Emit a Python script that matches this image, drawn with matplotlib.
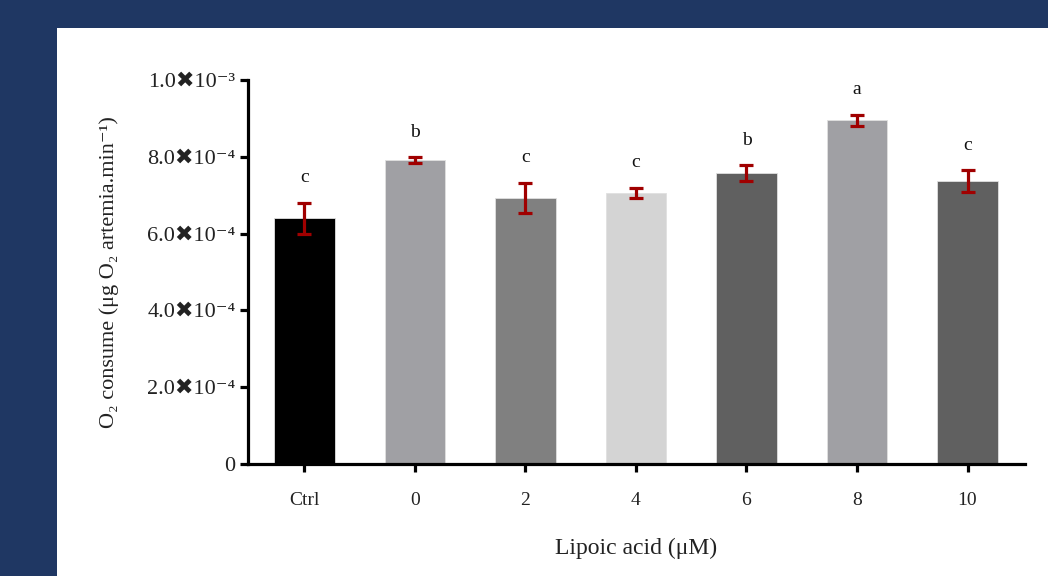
import matplotlib
matplotlib.use("Agg")
import matplotlib.pyplot as plt
from matplotlib.patches import Rectangle

categories = ["Ctrl", "0", "2", "4", "6", "8", "10"]
values = [0.640e-3, 0.792e-3, 0.693e-3, 0.706e-3, 0.758e-3, 0.895e-3, 0.737e-3]
errors = [0.040e-3, 0.007e-3, 0.040e-3, 0.013e-3, 0.020e-3, 0.014e-3, 0.028e-3]
letters = ["c", "b", "c", "c", "b", "a", "c"]
bar_colors = ["#000000", "#a0a0a4", "#808080", "#d4d4d4", "#606060", "#a0a0a4", "#606060"]
ytick_vals = [0, 2e-4, 4e-4, 6e-4, 8e-4, 1e-3]
ytick_labels = ["0", "2.0✖10⁻⁴", "4.0✖10⁻⁴", "6.0✖10⁻⁴", "8.0✖10⁻⁴", "1.0✖10⁻³"]

FAM = ["Liberation Serif", "DejaVu Sans"]
plt.rcParams["font.family"] = FAM

fig = plt.figure(figsize=(10.48, 5.76), dpi=100, facecolor="#1f3763")
fig.patches.append(Rectangle((57/1048, 0), 1 - 57/1048, (576-28)/576,
                             transform=fig.transFigure, facecolor="white",
                             edgecolor="none", zorder=-10))

ax = fig.add_axes([248/1048, (576-464)/576, (1025-248)/1048, (464-80)/576])
ax.set_facecolor("none")
x = list(range(len(categories)))
ax.bar(x, values, width=0.55, color=bar_colors, edgecolor="#e0e0e0", linewidth=0.6, zorder=2)
ax.errorbar(x, values, yerr=errors, fmt="none", ecolor="#a00000",
            elinewidth=2.3, capsize=5, capthick=2.3, zorder=3)
for xi, v, e, l in zip(x, values, errors, letters):
    ax.annotate(l, (xi, v + e), xytext=(0, 12), textcoords="offset points",
                ha="center", va="bottom", fontsize=14, color="#111111")

ax.set_xlim(-0.51, 6.52)
ax.set_ylim(0, 1e-3)
ax.set_yticks(ytick_vals)
ax.set_yticklabels(ytick_labels)
ax.set_xticks(x)
ax.set_xticklabels(categories)
for s in ["top", "right"]:
    ax.spines[s].set_visible(False)
for s in ["left", "bottom"]:
    ax.spines[s].set_linewidth(2.3)
ax.tick_params(axis="both", width=2.3, length=6, colors="black", labelcolor="#222222")
ax.tick_params(axis="x", pad=14, labelsize=14)
ax.tick_params(axis="y", pad=3, labelsize=16)
ax.set_xlabel("Lipoic acid (μM)", fontsize=17, labelpad=21, color="#222222")
ax.set_ylabel("O₂ consume (μg O₂ artemia.min⁻¹)", fontsize=16, labelpad=20, color="#222222")

fig.savefig("out.png", dpi=100, facecolor=fig.get_facecolor())
